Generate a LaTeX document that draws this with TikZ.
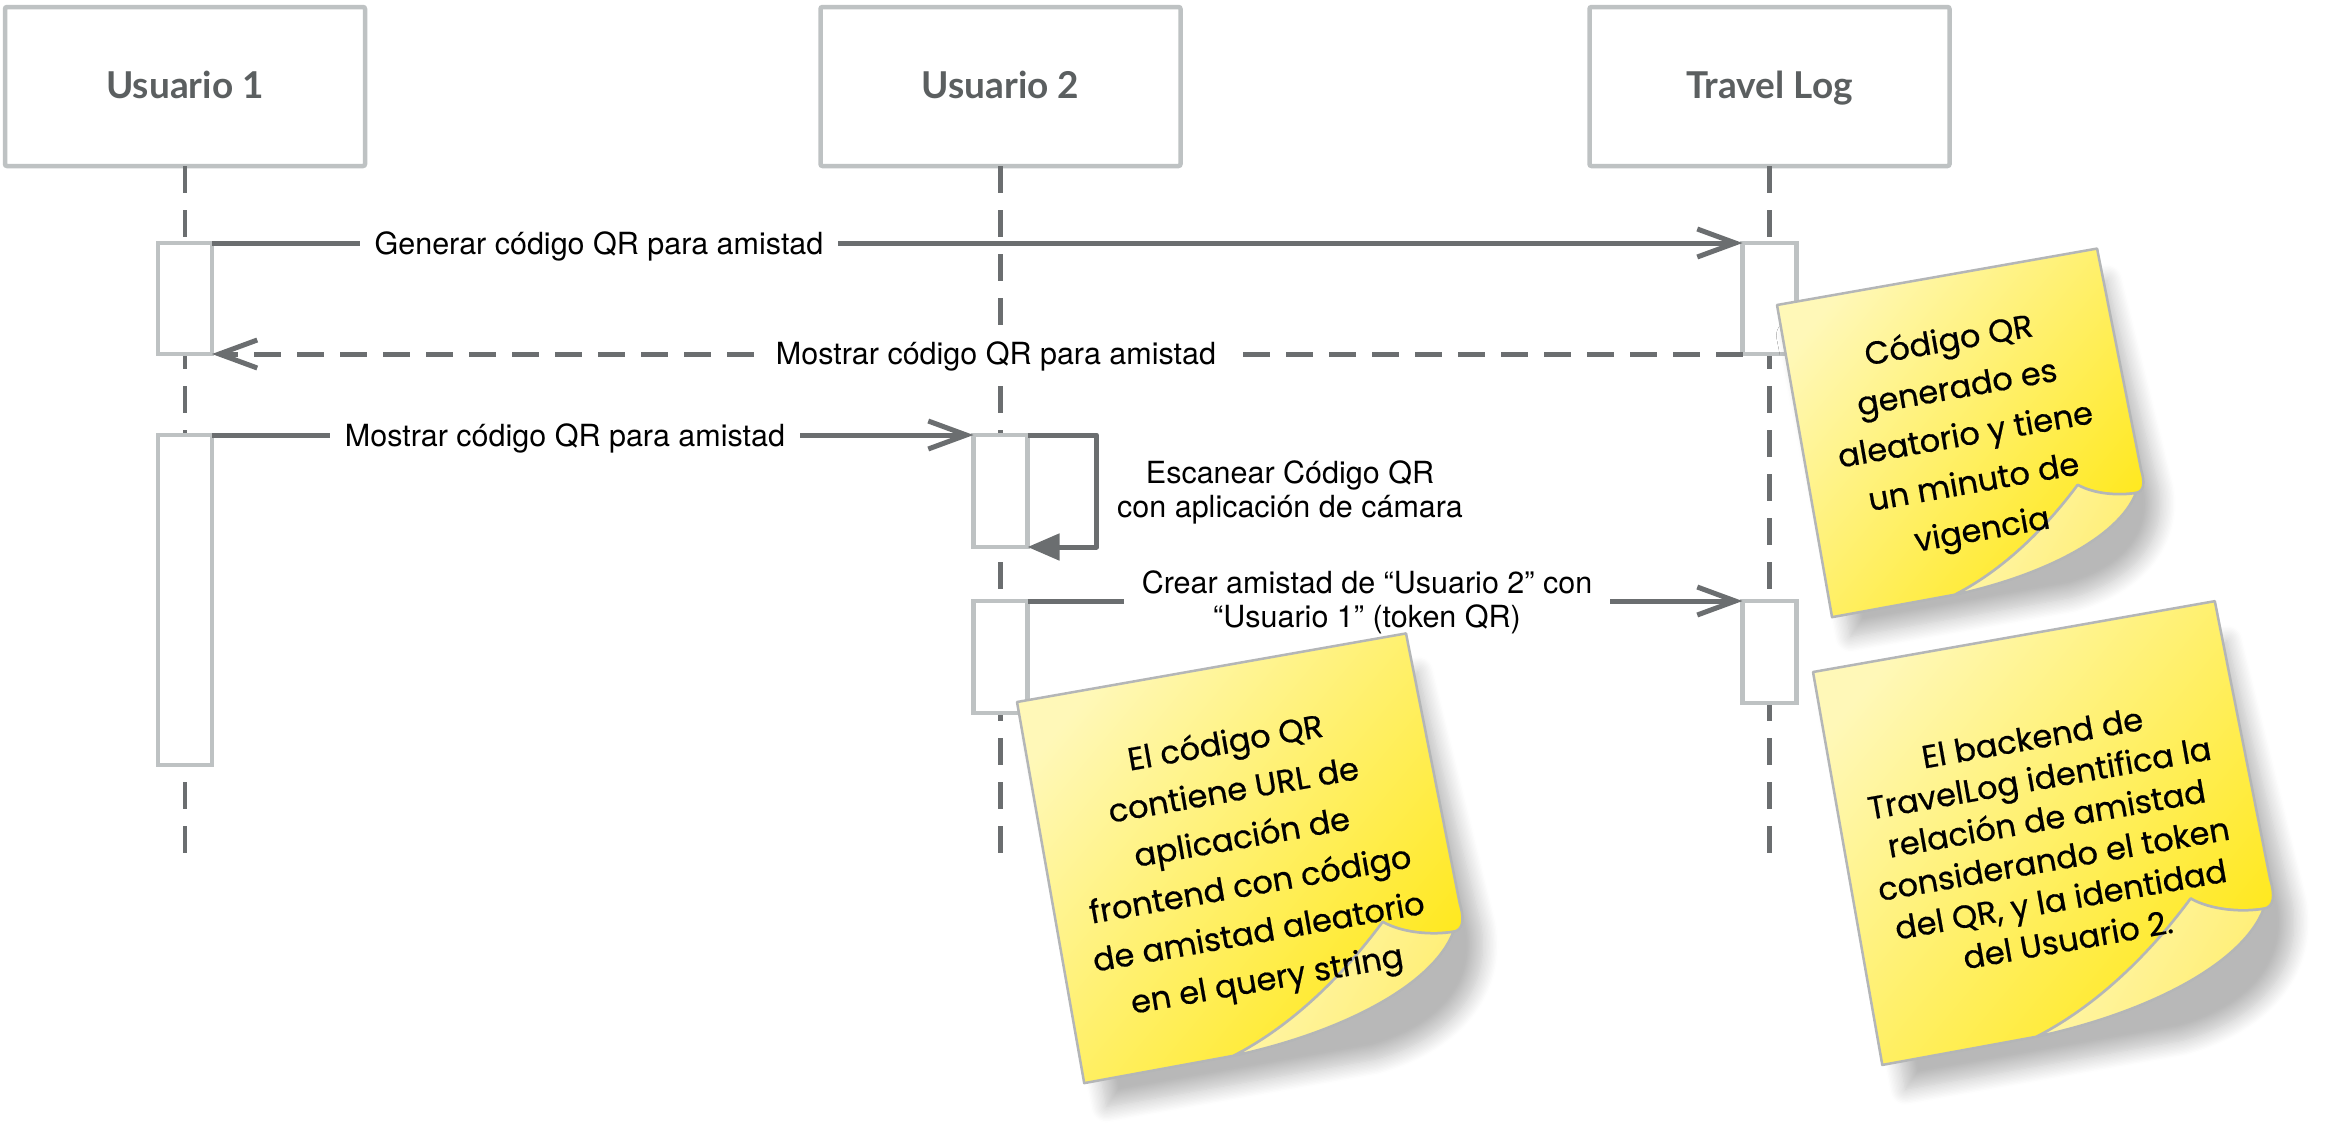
\documentclass[tikz,border=0pt]{standalone}
\usepackage{fontspec}
\setmainfont{TeX Gyre Heros}
\newfontfamily\headfont{Lato}
\newfontfamily\notefont{Poppins}[FakeBold=0.6]
\usetikzlibrary{arrows.meta,shadows.blur}
\definecolor{boxgray}{HTML}{BEC2C3}
\definecolor{linegray}{HTML}{6B6E70}
\definecolor{headtext}{HTML}{5B5F60}
\definecolor{noteA}{HTML}{FFF8B8}
\definecolor{noteB}{HTML}{FFE81C}
\definecolor{foldA}{HTML}{FFF6B0}
\definecolor{foldB}{HTML}{FFEE70}
\definecolor{noteedge}{HTML}{B4B6B7}
% #1 name, #2 top-left corner, #3 xscale, #4 yscale, #5 font, #6 text
\newcommand{\stickynote}[6]{%
  \begin{scope}[shift={(#2)}, rotate=10, xscale=#3, yscale=#4]
    \path[noteshadow] (12,40) -- (400,40) -- (418,300) .. controls (418,362) and (372,406) .. (290,414) -- (18,414) -- cycle;
    \path[notefront] (0,0) -- (395,0) -- (401,275) .. controls (403,292) and (400,302) .. (390,302) .. controls (370,302) and (340,295) .. (322,280) .. controls (280,320) and (220,365) .. (152,386) -- (0,387) -- cycle;
    \path[notefold] (322,280) .. controls (340,295) and (370,302) .. (390,302) .. controls (360,352) and (260,382) .. (152,386) .. controls (220,365) and (280,320) .. (322,280) -- cycle;
    \coordinate (#1c) at (198,199);
  \end{scope}
  \node[notetext, #5] (#1) at (#1c) {#6};}
\begin{document}
\begin{tikzpicture}[x=1pt, y=-1pt,
  header/.style={draw=boxgray, line width=4.5pt, fill=white, minimum width=360pt, minimum height=159pt, rounded corners=2pt, font=\headfont\bfseries\fontsize{37}{40}\selectfont, text=headtext, text height=30pt, text depth=7pt, inner sep=0pt, outer sep=0pt},
  lifeline/.style={draw=linegray, line width=4.5pt, dash pattern=on 27pt off 17pt},
  actbox/.style={draw=boxgray, line width=4.5pt, fill=white, minimum width=54pt, inner sep=0pt, outer sep=0pt},
  msg/.style={draw=linegray, line width=5pt, -{Straight Barb[length=38pt, width=28pt]}},
  retmsg/.style={msg, dash pattern=on 27pt off 16pt},
  selfmsg/.style={draw=linegray, line width=5pt, line join=round, -{Triangle[length=32pt, width=26pt]}},
  lbl/.style={font=\fontsize{30.5}{34}\selectfont, fill=white, inner xsep=15pt, inner ysep=1pt, text height=23pt, text depth=7pt},
  lbltwo/.style={font=\fontsize{30.5}{34}\selectfont, align=center, inner xsep=18pt, inner ysep=0pt},
  noteshadow/.style={blur shadow={shadow xshift=0pt, shadow yshift=0pt, shadow blur radius=16pt, shadow blur steps=12, shadow opacity=28}},
  notefront/.style={draw=noteedge, line width=2.5pt, line join=round, top color=noteA, bottom color=noteB, shading angle=50},
  notefold/.style={draw=noteedge, line width=2.5pt, line join=round, left color=foldA, right color=foldB, shading angle=60},
  notetext/.style={rotate=10, align=center, inner sep=0pt, text=black}
]
\useasboundingbox (0,0) rectangle (2330,1144);

% participants
\node[header] (u1) at (185,86.5) {Usuario 1};
\node[header] (u2) at (1000.5,86.5) {Usuario 2};
\node[header] (tl) at (1769.5,86.5) {Travel Log};

\coordinate (u1end) at (185,861);
\coordinate (u2end) at (1000.5,861);
\coordinate (tlend) at (1769.5,861);

\draw[lifeline] (u1.south) -- (u1end);
\draw[lifeline] (u2.south) -- (u2end);
\draw[lifeline] (tl.south) -- (tlend);

% activations
\node[actbox, minimum height=111pt] (a1) at (185,298.5) {};
\node[actbox, minimum height=330pt] (a2) at (185,600) {};
\node[actbox, minimum height=111pt] (a3) at (1769.5,298.5) {};
\node[actbox, minimum height=112pt] (a4) at (1000.5,491) {};
\node[actbox, minimum height=112pt] (a5) at (1000.5,657) {};
\node[actbox, minimum height=102pt] (a6) at (1769.5,652) {};

% messages
\draw[msg] (a1.north east) -- (a3.north west);
\node[lbl, anchor=base] (m1) at (599,254) {Generar código QR para amistad};

\draw[retmsg] (a3.south west) -- (a1.south east);
\node[lbl, anchor=base] (m2) at (996,364) {Mostrar código QR para amistad};

\draw[msg] (a2.north east) -- (a4.north west);
\node[lbl, anchor=base] (m3) at (565,446) {Mostrar código QR para amistad};

\draw[selfmsg] (a4.north east) -- ++(69,0) |- (a4.south east);
\node[lbltwo] (m4) at (1290,492) {Escanear Código QR\\con aplicación de cámara};

\draw[msg] (a5.north east) -- (a6.north west);
\node[lbltwo, fill=white] (m5) at (1367,602) {Crear amistad de “Usuario 2” con\\“Usuario 1” (token QR)};

% notes
\stickynote{n1}{1777,305}{0.8228}{0.8191}{font=\notefont\fontsize{32}{48}\selectfont}{Código QR\\generado es\\aleatorio y tiene\\un minuto de\\vigencia}
\stickynote{n2}{1017,702}{1}{1}{font=\notefont\fontsize{32}{48}\selectfont}{El código QR\\contiene URL de\\aplicación de\\frontend con código\\de amistad aleatorio\\en el query string}
\stickynote{n3}{1813,672}{1.0329}{1.031}{font=\notefont\fontsize{32}{41}\selectfont}{El backend de\\TravelLog identifica la\\relación de amistad\\considerando el token\\del QR, y la identidad\\del Usuario 2.}
\end{tikzpicture}
\end{document}
